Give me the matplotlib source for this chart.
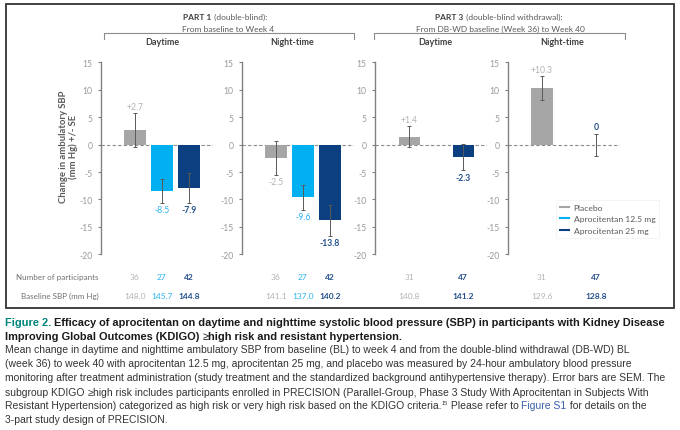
import matplotlib
matplotlib.use("Agg")
import matplotlib.pyplot as plt
import matplotlib.transforms as mtransforms
from matplotlib.patches import Rectangle
from matplotlib.lines import Line2D

# ---- data ----
groups = ["Placebo", "Aprocitentan 12.5 mg", "Aprocitentan 25 mg"]
panel_titles = ["Daytime", "Night-time", "Daytime", "Night-time"]

p1_day = [2.7, -8.5, -7.9]
p1_day_se = [3.1, 2.2, 2.7]
p1_night = [-2.5, -9.6, -13.8]
p1_night_se = [3.1, 2.3, 2.8]
p3_day = [1.4, None, -2.3]
p3_day_se = [1.9, None, 2.4]
p3_night = [10.3, None, 0.0]
p3_night_se = [2.2, None, 2.0]

n_p1_day = [36, 27, 42]
n_p1_night = [36, 27, 42]
n_p3_day = [31, None, 47]
n_p3_night = [31, None, 47]

bl_p1_day = [148.0, 145.7, 144.8]
bl_p1_night = [141.1, 137.0, 140.2]
bl_p3_day = [140.8, None, 141.2]
bl_p3_night = [129.6, None, 128.8]

yticks = [15, 10, 5, 0, -5, -10, -15, -20]

values = [p1_day, p1_night, p3_day, p3_night]
errors = [p1_day_se, p1_night_se, p3_day_se, p3_night_se]
counts = [n_p1_day, n_p1_night, n_p3_day, n_p3_night]
baselines = [bl_p1_day, bl_p1_night, bl_p3_day, bl_p3_night]

colors = ["#a6a6a6", "#00b0f0", "#0b3f80"]
num_colors = ["#b3b3b3", "#2bb3ee", "#24508c"]
num_weights = ["normal", "normal", "bold"]

W, H = 680, 431
plt.rcParams["font.family"] = ["Lato", "DejaVu Sans"]

fig = plt.figure(figsize=(W / 100, H / 100), dpi=100)


def fx(x):
    return x / W


def fy(y):
    return 1 - y / H


# outer frame of the chart
fig.patches.append(Rectangle((fx(5.5), fy(309)), fx(674) - fx(5.5), fy(5) - fy(309),
                             transform=fig.transFigure, fill=False,
                             edgecolor="#333333", linewidth=1.3))

axis_left = [100.7, 241.7, 375.0, 507.7]
ax_w = 112
top_px, bot_px = 63.3, 255.3

for i in range(4):
    ax = fig.add_axes([fx(axis_left[i]), fy(bot_px), ax_w / W, (bot_px - top_px) / H])
    ax.set_xlim(-1.27, 2.88)
    ax.set_ylim(-20, 15)
    ax.patch.set_alpha(0)
    for s in ["top", "right", "bottom"]:
        ax.spines[s].set_visible(False)
    ax.spines["left"].set_color("#808080")
    ax.spines["left"].set_linewidth(1.0)
    ax.set_xticks([])
    ax.set_yticks(yticks)
    ax.set_yticklabels([str(t) for t in yticks])
    ax.tick_params(axis="y", length=2, width=0.8, color="#808080",
                   labelsize=6.2, labelcolor="#9a9a9a", pad=4)
    ax.axhline(0, color="#8c8c8c", linestyle=(0, (3, 2)), linewidth=0.8, zorder=1)

    for j in range(3):
        v = values[i][j]
        if v is None:
            continue
        e = errors[i][j]
        ax.bar(j, v, width=0.79, color=colors[j], zorder=2)
        ax.errorbar(j, v, yerr=e, fmt="none", ecolor="#595959", elinewidth=0.7,
                    capsize=1.5, capthick=0.7, zorder=3)
        if v > 0:
            lab = "+%.1f" % v
        elif v < 0:
            lab = "-%.1f" % abs(v)
        else:
            lab = "0"
        if v >= 0:
            ax.annotate(lab, (j, v + e), xytext=(0, 4.8), textcoords="offset points",
                        ha="center", va="center", fontsize=6.2, color=num_colors[j],
                        fontweight="bold" if (j == 2 and v == 0) else "normal")
        else:
            ax.annotate(lab, (j, v - e), xytext=(0, -4.8), textcoords="offset points",
                        ha="center", va="center", fontsize=6.2, color=num_colors[j],
                        fontweight=num_weights[j] if j != 1 else "normal")

    trans = mtransforms.blended_transform_factory(ax.transData, fig.transFigure)
    for j in range(3):
        if counts[i][j] is None:
            continue
        ax.text(j, fy(277.5), str(counts[i][j]), transform=trans, ha="center", va="center",
                fontsize=6.0, color=num_colors[j], fontweight=num_weights[j])
        ax.text(j, fy(296.3), "%.1f" % baselines[i][j], transform=trans, ha="center",
                va="center", fontsize=6.0, color=num_colors[j], fontweight=num_weights[j])

    if i == 3:
        handles = [Line2D([0], [0], color=c, linewidth=1.5) for c in colors]
        leg = ax.legend(handles, groups, loc="lower left",
                        bbox_to_anchor=(fx(552), fy(243)), bbox_transform=fig.transFigure,
                        fontsize=6.1, frameon=True, fancybox=False, handlelength=1.1,
                        handletextpad=0.5, borderpad=0.45, labelspacing=0.55)
        leg.get_frame().set_edgecolor("#f0f0f0")
        leg.get_frame().set_linewidth(0.6)
        for t in leg.get_texts():
            t.set_color("#595959")

# panel titles
title_x = [162.7, 292.5, 435.5, 562.0]
for x, t in zip(title_x, panel_titles):
    fig.text(fx(x), fy(42.7), t, ha="center", va="center", fontsize=6.5,
             fontweight="bold", color="#404040")

# part headers
fig.text(fx(211), fy(17.3), "PART 1", ha="right", va="center", fontsize=6.0,
         fontweight="bold", color="#404040")
fig.text(fx(212.3), fy(17.3), " (double-blind):", ha="left", va="center", fontsize=6.0,
         color="#595959")
fig.text(fx(228.5), fy(29), "From baseline to Week 4", ha="center", va="center",
         fontsize=6.0, color="#595959")
fig.text(fx(463.5), fy(17.3), "PART 3", ha="right", va="center", fontsize=6.0,
         fontweight="bold", color="#404040")
fig.text(fx(464.5), fy(17.3), " (double-blind withdrawal):", ha="left", va="center",
         fontsize=6.0, color="#595959")
fig.text(fx(500), fy(29), "From DB-WD baseline (Week 36) to Week 40", ha="center",
         va="center", fontsize=6.0, color="#595959")

# brackets
for x0, x1 in [(104, 354.3), (374.3, 625)]:
    fig.lines.append(Line2D([fx(x0), fx(x0), fx(x1), fx(x1)],
                            [fy(39.5), fy(33.5), fy(33.5), fy(39.5)],
                            transform=fig.transFigure, color="#8c8c8c", linewidth=0.8))

# y label
fig.text(fx(68.5), fy(146.5), "Change in ambulatory SBP\n(mm Hg) +/- SE", rotation=90,
         ha="center", va="center", fontsize=6.8, fontweight="bold", color="#595959",
         linespacing=1.15)

# row labels
fig.text(fx(98.5), fy(277.5), "Number of participants", ha="right", va="center",
         fontsize=5.8, color="#707070")
fig.text(fx(98.5), fy(296.3), "Baseline SBP (mm Hg)", ha="right", va="center",
         fontsize=5.8, color="#707070")

# caption
cap_font = "Liberation Sans"
renderer = fig.canvas.get_renderer()


def draw_segments(x, y, segments, size):
    # segments: (text, colour, weight, size factor, raise in px)
    for seg in segments:
        txt, color, weight = seg[:3]
        scale = seg[3] if len(seg) > 3 else 1.0
        lift = seg[4] if len(seg) > 4 else 0.0
        t = fig.text(fx(x), fy(y - lift), txt, ha="left", va="center", fontsize=size * scale,
                     color=color, fontweight=weight, family=[cap_font, "DejaVu Sans"])
        bb = t.get_window_extent(renderer=renderer)
        x += bb.width


teal = "#00857c"
dark = "#1a1a1a"
body = "#333333"
link = "#3a5fa8"
bold_size = 7.9
body_size = 7.45
draw_segments(5, 323.5, [("Figure 2. ", teal, "bold"),
                         ("Efficacy of aprocitentan on daytime and nighttime systolic blood "
                          "pressure (SBP) in participants with Kidney Disease", dark, "bold")],
              bold_size)
draw_segments(5, 337.0, [("Improving Global Outcomes (KDIGO) ", dark, "bold"),
                         ("\u2265", dark, "normal"),
                         ("high risk and resistant hypertension.", dark, "bold")], bold_size)
body_lines = [
    "Mean change in daytime and nighttime ambulatory SBP from baseline (BL) to week 4 and from the double-blind withdrawal (DB-WD) BL",
    "(week 36) to week 40 with aprocitentan 12.5 mg, aprocitentan 25 mg, and placebo was measured by 24-hour ambulatory blood pressure",
    "monitoring after treatment administration (study treatment and the standardized background antihypertensive therapy). Error bars are SEM. The",
]
ys = [350.3, 364.3, 378.4]
for y, line in zip(ys, body_lines):
    draw_segments(5, y, [(line, body, "normal")], body_size)
draw_segments(5, 392.5, [("subgroup KDIGO ", body, "normal"),
                         ("\u2265", body, "normal"),
                         ("high risk includes participants enrolled in PRECISION (Parallel-Group, "
                          "Phase 3 Study With Aprocitentan in Subjects With", body, "normal")],
              body_size)
draw_segments(5, 406.5, [("Resistant Hypertension) categorized as high risk or very high risk "
                          "based on the KDIGO criteria.", body, "normal"),
                         ("15", body, "normal", 0.55, 2.5),
                         (" Please refer to ", body, "normal"),
                         ("Figure S1", link, "normal"),
                         (" for details on the", body, "normal")], body_size)
draw_segments(5, 420.5, [("3-part study design of PRECISION.", body, "normal")], body_size)

fig.savefig("out.png", dpi=100)
